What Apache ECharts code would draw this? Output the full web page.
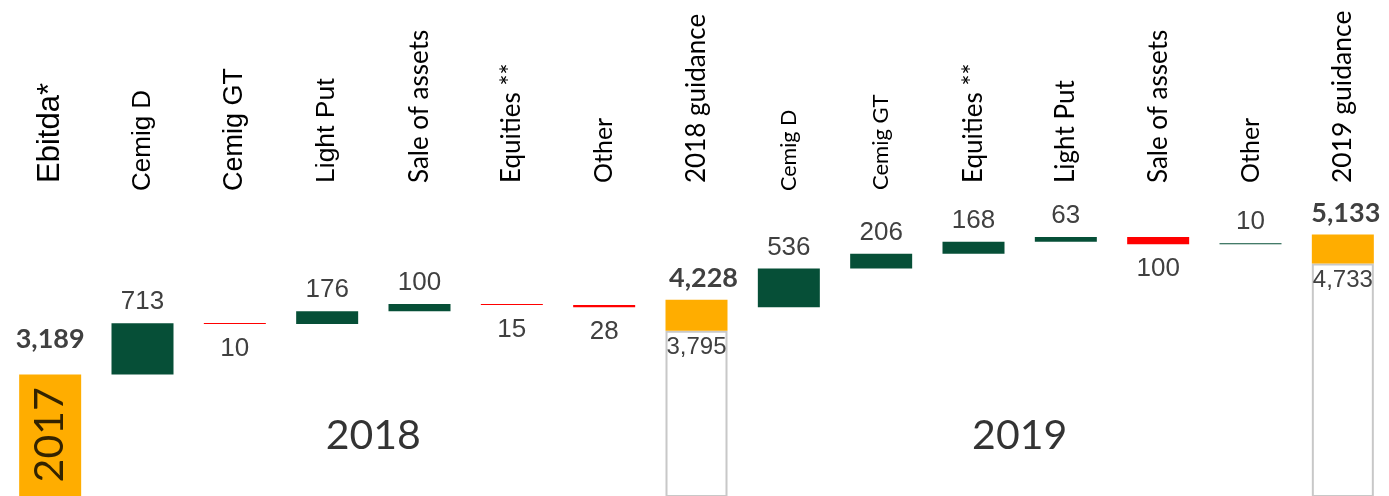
<!DOCTYPE html>
<html><head><meta charset="utf-8">
<script src="https://cdn.jsdelivr.net/npm/echarts@6/dist/echarts.min.js"></script>
<style>html,body{margin:0;padding:0;background:#fff}#c{width:1389px;height:496px}</style>
</head><body><div id="c"></div>
<script>
// ---------------- data ----------------
const categories = ['Ebitda*','Cemig D','Cemig GT','Light Put','Sale of assets','Equities **','Other','2018 guidance','Cemig D','Cemig GT','Equities **','Light Put','Sale of assets','Other','2019 guidance'];
const startValue = 3189;                       // Ebitda 2017
const changes = [null, 713, -10, 176, 100, -15, -28, null, 536, 206, 168, 63, -100, 10, null];
const guidanceLow  = [null, null, null, null, null, null, null, 3795, null, null, null, null, null, null, 4733];
const guidanceHigh = [null, null, null, null, null, null, null, 4228, null, null, null, null, null, null, 5133];
const yearTexts = ['2017', '2018', '2019'];
const yearAnchors = [[0, 2350], [3.5, 2330], [10.5, 2330]];   // [category index, value]

// ---------------- styles ----------------
const ORANGE = '#FFAD00', GREEN = '#064F37', RED = '#FF0000';
const NARROW = "'Liberation Sans',Arial,sans-serif";
const ARIAL = "'Liberation Sans',Arial,sans-serif";
const CAL = "Lato,'Open Sans',sans-serif";
const fmt = v => Number(v).toLocaleString('en-US');

// per-category axis-label styles
const labelStyle = [
  {f: ARIAL, s: 31, p: 8}, {f: ARIAL, s: 26, p: 0}, {f: ARIAL, s: 27, p: 0}, {f: ARIAL, s: 26.5, p: 8},
  {f: CAL, s: 26, p: 8}, {f: CAL, s: 26, p: 8}, {f: CAL, s: 25, p: 8}, {f: CAL, s: 26, p: 8},
  {f: CAL, s: 21.5, p: 0}, {f: CAL, s: 22, p: 1}, {f: CAL, s: 26, p: 8}, {f: CAL, s: 26, p: 8},
  {f: CAL, s: 26, p: 8}, {f: CAL, s: 25, p: 8}, {f: CAL, s: 26.5, p: 8}
];
const rich = {};
labelStyle.forEach((st, i) => {
  rich['s' + i] = {fontFamily: st.f, fontSize: st.s, color: '#000', padding: [0, 0, 0, st.p]};
});
const highLabelShift = {7: 7, 14: 3};

// ---------------- build waterfall ----------------
const n = categories.length;
const baseData = [], lowData = [], posData = [], negData = [], highData = [];
let total = startValue;
for (let i = 0; i < n; i++) {
  if (i === 0) {
    baseData.push({value: startValue, itemStyle: {color: ORANGE},
      label: {show: true, position: 'top', distance: 22, formatter: fmt(startValue),
        fontFamily: CAL, fontWeight: 'bold', fontSize: 27, color: '#404040'}});
    lowData.push('-'); posData.push('-'); negData.push('-'); highData.push('-');
  } else if (changes[i] !== null) {
    const prev = total; total += changes[i];
    baseData.push(Math.min(prev, total));
    lowData.push('-'); highData.push('-');
    if (changes[i] >= 0) { posData.push(changes[i]); negData.push('-'); }
    else { negData.push(-changes[i]); posData.push('-'); }
  } else {
    baseData.push('-'); posData.push('-'); negData.push('-');
    lowData.push(guidanceLow[i]);
    highData.push({value: guidanceHigh[i] - guidanceLow[i], raw: guidanceHigh[i],
      label: {offset: [highLabelShift[i] || 0, 0]}});
  }
}

const chart = echarts.init(document.getElementById('c'), null, {renderer: 'canvas'});
chart.setOption({
  animation: false,
  backgroundColor: '#fff',
  grid: {left: 4, right: -2, top: 201, bottom: -7},
  xAxis: [{
    type: 'category', data: categories, position: 'top',
    axisLine: {show: false}, axisTick: {show: false}, splitLine: {show: false},
    axisLabel: {interval: 0, rotate: -90, margin: 10, hideOverlap: false,
      formatter: (v, i) => '{s' + i + '|' + v + '}', rich: rich}
  }, {
    type: 'value', min: -0.5, max: n - 0.5, show: false
  }],
  yAxis: {type: 'value', min: 1500, max: 5600, show: false},
  series: [
    {name: 'base', type: 'bar', stack: 'w', barWidth: 62, data: baseData,
      itemStyle: {color: 'rgba(0,0,0,0)'}},
    {name: 'low', type: 'bar', stack: 'w', barWidth: 62, data: lowData,
      itemStyle: {color: '#fff', borderColor: '#C8C8C8', borderWidth: 2},
      label: {show: true, position: 'insideTop', distance: 5, formatter: p => fmt(p.value),
        fontFamily: NARROW, fontSize: 24, color: '#404040'}},
    {name: 'pos', type: 'bar', stack: 'w', barWidth: 62, barMinHeight: 1, data: posData,
      itemStyle: {color: GREEN},
      label: {show: true, position: 'top', distance: 8, formatter: p => fmt(p.value),
        fontFamily: NARROW, fontSize: 26, color: '#404040'}},
    {name: 'neg', type: 'bar', stack: 'w', barWidth: 62, barMinHeight: 1, data: negData,
      itemStyle: {color: RED},
      label: {show: true, position: 'bottom', distance: 12, formatter: p => fmt(p.value),
        fontFamily: NARROW, fontSize: 26, color: '#404040'}},
    {name: 'high', type: 'bar', stack: 'w', barWidth: 62, data: highData,
      itemStyle: {color: ORANGE},
      label: {show: true, position: 'top', distance: 8, formatter: p => fmt(p.data.raw),
        fontFamily: CAL, fontWeight: 'bold', fontSize: 27, color: '#404040'}},
    {name: 'years', type: 'scatter', xAxisIndex: 1, yAxisIndex: 0, symbolSize: 0, silent: true,
      data: yearTexts.map((t, i) => ({value: yearAnchors[i], name: t,
        label: {rotate: i === 0 ? 90 : 0}})),
      label: {show: true, position: 'inside', formatter: p => p.name,
        fontFamily: CAL, fontSize: 41, color: '#000'}}
  ]
});
</script></body></html>
